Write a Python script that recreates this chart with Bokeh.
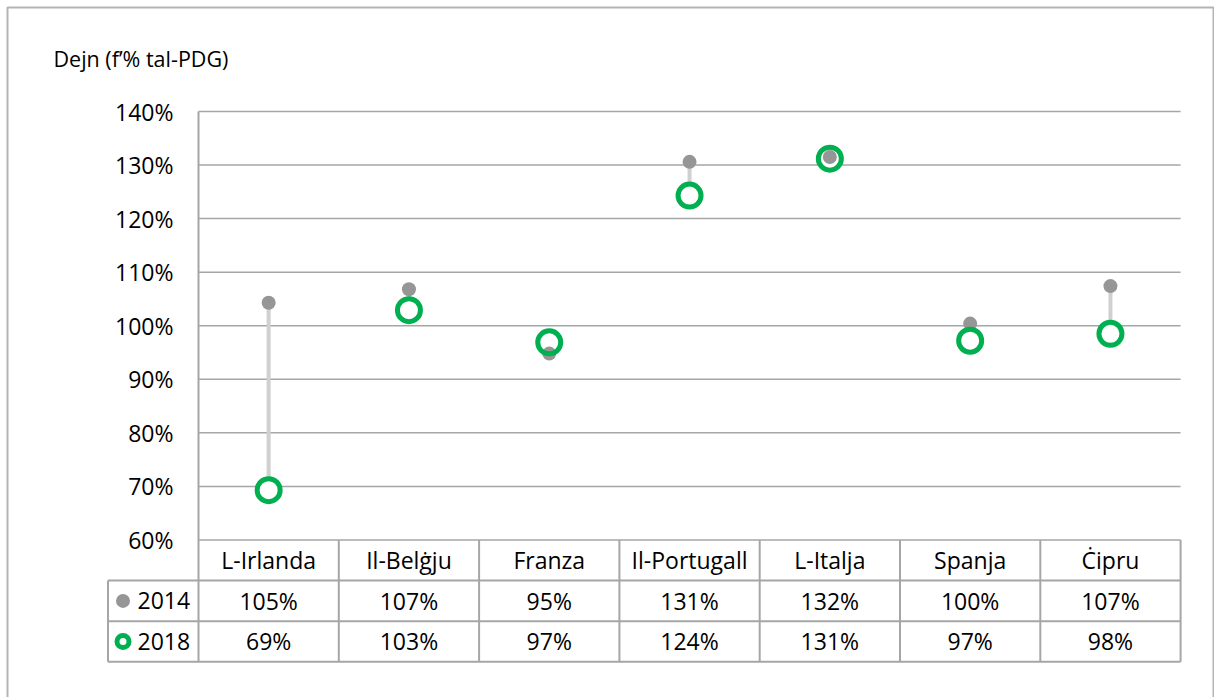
import numpy as np
from bokeh.plotting import figure
from bokeh.models import Range1d, ColumnDataSource
from bokeh.core.properties import value
from bokeh.embed import file_html
from bokeh.resources import INLINE

# ---------------- data ----------------
categories = ["L-Irlanda", "Il-Belġju", "Franza", "Il-Portugall", "L-Italja", "Spanja", "Ċipru"]
debt_2014 = [104.3, 106.8, 94.8, 130.6, 131.5, 100.4, 107.4]
debt_2018 = [69.3, 102.9, 96.9, 124.3, 131.2, 97.2, 98.5]
labels_2014 = ["105%", "107%", "95%", "131%", "132%", "100%", "107%"]
labels_2018 = ["69%", "103%", "97%", "124%", "131%", "97%", "98%"]
series_names = ["2014", "2018"]
y_ticks = [60, 70, 80, 90, 100, 110, 120, 130, 140]
y_tick_labels = ["60%", "70%", "80%", "90%", "100%", "110%", "120%", "130%", "140%"]
y_title = "Dejn (f’% tal-PDG)"

# ---------------- layout constants (page pixels) ----------------
W, H = 1214, 697
FONT = "Open Sans"
GREY = "#969696"
GREEN = "#00b050"
LINE = "#a6a6a6"
PLOT_L, PLOT_T = 198, 111      # left edge / 140% line of the plot area
COL_PX = 140.3                 # pixels per category
PX_PER_UNIT = 5.356            # pixels per percentage point
ROW_PX = 40.6                  # table row height

n = len(categories)
idx = np.arange(n)
y_top = max(y_ticks)


def xd(px):
    return -0.5 + (px - PLOT_L) / COL_PX


def yd(px):
    return y_top - (px - PLOT_T) / PX_PER_UNIT


row_h = ROW_PX / PX_PER_UNIT
table_top = min(y_ticks)
row_edges = [table_top - k * row_h for k in range(4)]
row_mid = [(row_edges[k] + row_edges[k + 1]) / 2 for k in range(3)]
right = n - 0.5

p = figure(width=W, height=H, x_range=Range1d(xd(0), xd(W)), y_range=Range1d(yd(H), yd(0)),
           x_axis_type=None, y_axis_type=None, toolbar_location=None, output_backend="svg",
           min_border=0)
p.outline_line_color = None
p.grid.visible = False
p.background_fill_color = "white"
p.border_fill_color = "white"

# ---------------- outer border ----------------
p.line(x=[xd(7), xd(7), xd(1213), xd(1213)], y=[yd(760), yd(7), yd(7), yd(760)],
       line_color="#b4b4b4", line_width=2)

# ---------------- value axis: grid, axis line, tick labels ----------------
nt = len(y_ticks)
p.segment(x0=[-0.5] * nt, y0=y_ticks, x1=[right] * nt, y1=y_ticks, line_color=LINE, line_width=1.5)
p.segment(x0=[-0.5], y0=[y_top], x1=[-0.5], y1=[row_edges[-1]], line_color=LINE, line_width=2)
p.text(x=[xd(173)] * nt, y=y_ticks, text=y_tick_labels, text_font=value(FONT), text_font_size="23px",
       text_color="black", text_align="right", text_baseline="middle")
p.text(x=[xd(53)], y=[yd(58)], text=[y_title], text_font=value(FONT), text_font_size="21.5px",
       text_color="black", text_align="left", text_baseline="middle")

# ---------------- data table ----------------
leg_left = xd(107.5)
p.segment(x0=idx + 0.5, y0=[table_top] * n, x1=idx + 0.5, y1=[row_edges[-1]] * n,
          line_color=LINE, line_width=2)
p.segment(x0=[leg_left] * 3, y0=row_edges[1:], x1=[right] * 3, y1=row_edges[1:],
          line_color=LINE, line_width=2)
p.segment(x0=[leg_left], y0=[row_edges[1]], x1=[leg_left], y1=[row_edges[-1]],
          line_color=LINE, line_width=2)

txt = dict(text_font=value(FONT), text_font_size="23px", text_color="black",
           text_align="center", text_baseline="middle")
p.text(x=idx, y=[row_mid[0]] * n, text=categories, **txt)
p.text(x=idx, y=[row_mid[1]] * n, text=labels_2014, **txt)
p.text(x=idx, y=[row_mid[2]] * n, text=labels_2018, **txt)

leg_x = xd(122.5)
p.scatter(x=[leg_x], y=[row_mid[1]], size=14, fill_color=GREY, line_color=None)
p.scatter(x=[leg_x], y=[row_mid[2]], size=12, fill_color="white", line_color=GREEN, line_width=5)
p.text(x=[xd(137)] * 2, y=row_mid[1:], text=series_names, text_font=value(FONT),
       text_font_size="23px", text_color="black", text_align="left", text_baseline="middle")

# ---------------- dumbbells ----------------
src = ColumnDataSource(dict(x=idx, y14=debt_2014, y18=debt_2018))
p.segment(x0="x", y0="y14", x1="x", y1="y18", source=src, line_color="#d0d0d0", line_width=4)
p.scatter(x="x", y="y18", source=src, size=23, fill_color="white", line_color=None)
p.scatter(x="x", y="y14", source=src, size=14, fill_color=GREY, line_color=None)
p.scatter(x="x", y="y18", source=src, size=23, fill_color=None, line_color=GREEN, line_width=5)

open("out.html", "w").write(file_html(p, INLINE))
